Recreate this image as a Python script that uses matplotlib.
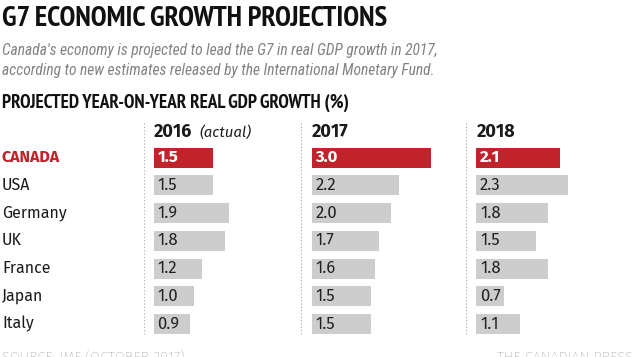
import matplotlib
matplotlib.use("Agg")
import matplotlib.pyplot as plt

countries = ["CANADA", "USA", "Germany", "UK", "France", "Japan", "Italy"]
years = ["2016", "2017", "2018"]
year_notes = ["(actual)", "", ""]
g2016 = [1.5, 1.5, 1.9, 1.8, 1.2, 1.0, 0.9]
g2017 = [3.0, 2.2, 2.0, 1.7, 1.6, 1.5, 1.5]
g2018 = [2.1, 2.3, 1.8, 1.5, 1.8, 0.7, 1.1]

RED = "#c1232c"
GREY = "#cdcdcd"
TXT = "#1a1a1a"

W, H = 635, 357
fig = plt.figure(figsize=(W / 100, H / 100), dpi=100)

def fx(px):
    return px / W

def fy(py):
    return 1 - py / H

title_font = "PT Sans Narrow"
sub_font = "Roboto Condensed"
body_font = "Fira Sans"

fig.text(fx(2), fy(19), "G7 ECONOMIC GROWTH PROJECTIONS", fontsize=20.6,
         fontweight="bold", family=title_font, va="center", color="#111111")
fig.text(fx(2), fy(50), "Canada's economy is projected to lead the G7 in real GDP growth in 2017,",
         fontsize=11.2, style="italic", family=sub_font, color="#828282", va="center")
fig.text(fx(2), fy(71), "according to new estimates released by the International Monetary Fund.",
         fontsize=11.2, style="italic", family=sub_font, color="#828282", va="center")
fig.text(fx(2), fy(103), "PROJECTED YEAR-ON-YEAR REAL GDP GROWTH (%)", fontsize=13.7,
         fontweight="bold", family=title_font, va="center", color="#111111")

# rows: centres at 157.5 px, spacing 27.75 px
row_h = 27.75
top = 157.5 - row_h / 2
bottom = top + row_h * 7
scale = 39.6  # px per percentage point
col_left = [154, 312, 476.5]
sep_x = [144, 301, 466]
col_w = 140

for i, c in enumerate(countries):
    yc = 157.5 + row_h * i
    if i == 0:
        fig.text(fx(2), fy(yc), c, fontsize=11.5, fontweight="bold", family=body_font,
                 color=RED, va="center")
    else:
        fig.text(fx(2), fy(yc), c, fontsize=11.5, family=body_font, color=TXT, va="center")

for k, vals in enumerate([g2016, g2017, g2018]):
    ax = fig.add_axes([fx(col_left[k]), fy(bottom), col_w / W, (bottom - top) / H])
    ax.set_xlim(0, col_w / scale)
    ax.set_ylim(len(vals) - 0.5, -0.5)
    colors = [RED] + [GREY] * (len(vals) - 1)
    ax.barh(range(len(vals)), vals, height=20 / row_h, color=colors)
    for i, v in enumerate(vals):
        ax.text(0.09, i, f"{v:.1f}", va="center", ha="left", fontsize=12,
                family=body_font, fontweight="bold" if i == 0 else "normal",
                color="white" if i == 0 else "#222222")
    ax.axis("off")

    fig.add_artist(plt.Line2D([fx(sep_x[k])] * 2, [fy(123), fy(334)], color="#a8a8a8",
                              lw=0.8, ls=(0, (1, 2))))
    fig.text(fx(col_left[k]), fy(132), years[k], fontsize=13, fontweight="bold",
             family=body_font, color=TXT, va="center")
    if year_notes[k]:
        fig.text(fx(col_left[k] + 45), fy(132), year_notes[k], fontsize=10.8, style="italic",
                 family=body_font, color=TXT, va="center")

fig.text(fx(2), fy(357.5), "SOURCE: IMF (OCTOBER 2017)", fontsize=10.5, family=body_font,
         fontweight="light", color="#8e8e8e", va="center")
fig.text(fx(633), fy(357.5), "THE CANADIAN PRESS", fontsize=10.5, family=body_font,
         fontweight="light", color="#8e8e8e", va="center", ha="right")

fig.savefig("out.png", dpi=100)
